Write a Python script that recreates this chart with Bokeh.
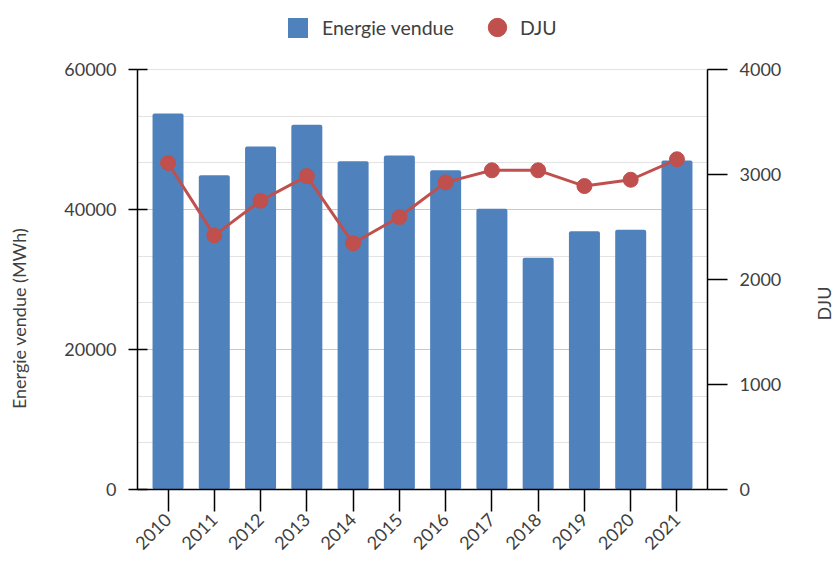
import math
from bokeh.plotting import figure
from bokeh.layouts import row
from bokeh.core.properties import value
from bokeh.models import (Range1d, LinearAxis, FixedTicker, Legend, LegendItem,
                          FactorRange, Grid, BasicTickFormatter)
from bokeh.embed import file_html
from bokeh.resources import INLINE

years = ["2010", "2011", "2012", "2013", "2014", "2015", "2016", "2017",
         "2018", "2019", "2020", "2021"]
energie = [53700, 44900, 49000, 52100, 46900, 47700, 45600, 40100,
           33100, 36900, 37100, 47000]
dju = [3110, 2420, 2750, 2985, 2345, 2595, 2925, 3040, 3040, 2890, 2950, 3145]
left_ticks = [0, 20000, 40000, 60000]
right_ticks = [0, 1000, 2000, 3000, 4000]
left_title = "Energie vendue (MWh)"
right_title = "DJU"

FONT = "Lato"
TEXT = "#404040"
BLUE = "#4f81bd"
RED = "#c0504d"

H = 562
STRIP = 30
LEFT_MAX = 60000
RIGHT_MAX = 4000
FRAME_H = 489          # frame reaches the top of the canvas (room for the legend)
AXIS_H = 420           # pixel height of the 0..max axis part
EXT = FRAME_H / AXIS_H

p = figure(x_range=FactorRange(*years, range_padding=0.16, range_padding_units="absolute"),
           y_range=Range1d(0, LEFT_MAX * EXT),
           width=835 - 2 * STRIP, height=H,
           min_border_left=137 - STRIP, min_border_right=128 - STRIP,
           min_border_top=0, min_border_bottom=H - FRAME_H,
           output_backend="svg", toolbar_location=None)
p.outline_line_color = None
p.extra_y_ranges = {"dju": Range1d(0, RIGHT_MAX * EXT)}

bars = p.vbar(x=years, top=energie, width=0.67, fill_color=BLUE, line_color=None,
              border_radius=2)
p.line(x=years, y=dju, y_range_name="dju", line_color=RED, line_width=3)
pts = p.scatter(x=years, y=dju, y_range_name="dju", size=15, fill_color=RED, line_color=RED)

# grids
p.xgrid.visible = False
p.ygrid.ticker = FixedTicker(ticks=[i * LEFT_MAX / 9 for i in range(1, 10)])
p.ygrid.grid_line_color = "#e3e3e3"
p.ygrid.grid_line_width = 1
g2 = Grid(dimension=1, ticker=FixedTicker(ticks=[20000, 40000]),
          grid_line_color="#c8c8c8", grid_line_width=1)
p.add_layout(g2)

def style_axis(ax):
    ax.axis_line_color = "black"
    ax.axis_line_width = 1.5
    ax.major_tick_line_color = "black"
    ax.major_tick_line_width = 1.5
    ax.minor_tick_line_color = None
    ax.major_label_text_font = FONT
    ax.major_label_text_font_size = "18px"
    ax.major_label_text_color = TEXT

ly = p.yaxis[0]
style_axis(ly)
ly.ticker = FixedTicker(ticks=left_ticks)
ly.formatter = BasicTickFormatter(use_scientific=False)
ly.bounds = (0, LEFT_MAX)
ly.major_tick_in = 10
ly.major_tick_out = 9
ly.major_label_standoff = 12

ry = LinearAxis(y_range_name="dju", ticker=FixedTicker(ticks=right_ticks),
                bounds=(0, RIGHT_MAX))
style_axis(ry)
ry.major_tick_in = 0
ry.major_tick_out = 20
ry.major_label_standoff = 12
p.add_layout(ry, "right")

xa = p.xaxis[0]
style_axis(xa)
xa.major_tick_in = 0
xa.major_tick_out = 22
xa.major_label_standoff = 5
xa.major_label_orientation = math.pi / 4

common = dict(orientation="horizontal", border_line_color=None, background_fill_alpha=0,
              label_text_font=FONT, label_text_font_size="19.5px", label_text_color=TEXT,
              padding=0, margin=0, spacing=0)
leg1 = Legend(items=[LegendItem(label="Energie vendue", renderers=[bars])],
              location=(148, 449), glyph_width=25, glyph_height=25, label_standoff=12,
              **common)
leg2 = Legend(items=[LegendItem(label="DJU", renderers=[pts])],
              location=(337, 437), glyph_width=46, glyph_height=50, label_standoff=0,
              **common)
p.add_layout(leg1)
p.add_layout(leg2)

# side strips carrying the axis titles (their frames are aligned with the main frame)
def strip(title, cx, cy):
    s = figure(width=STRIP, height=H, x_range=Range1d(0, STRIP), y_range=Range1d(0, FRAME_H),
               x_axis_type=None, y_axis_type=None, min_border=0,
               min_border_bottom=H - FRAME_H,
               output_backend="svg", toolbar_location=None)
    s.outline_line_color = None
    s.grid.visible = False
    s.text(x=[cx], y=[FRAME_H - cy], text=[title], angle=math.pi / 2,
           text_align="center", text_baseline="middle",
           text_font=value(FONT), text_font_size="18px", text_color=TEXT)
    return s

left_strip = strip(left_title, 18, 318)
right_strip = strip(right_title, 823 - (835 - STRIP), 303)

layout = row(left_strip, p, right_strip, spacing=0)

open("out.html", "w").write(file_html(layout, INLINE))
